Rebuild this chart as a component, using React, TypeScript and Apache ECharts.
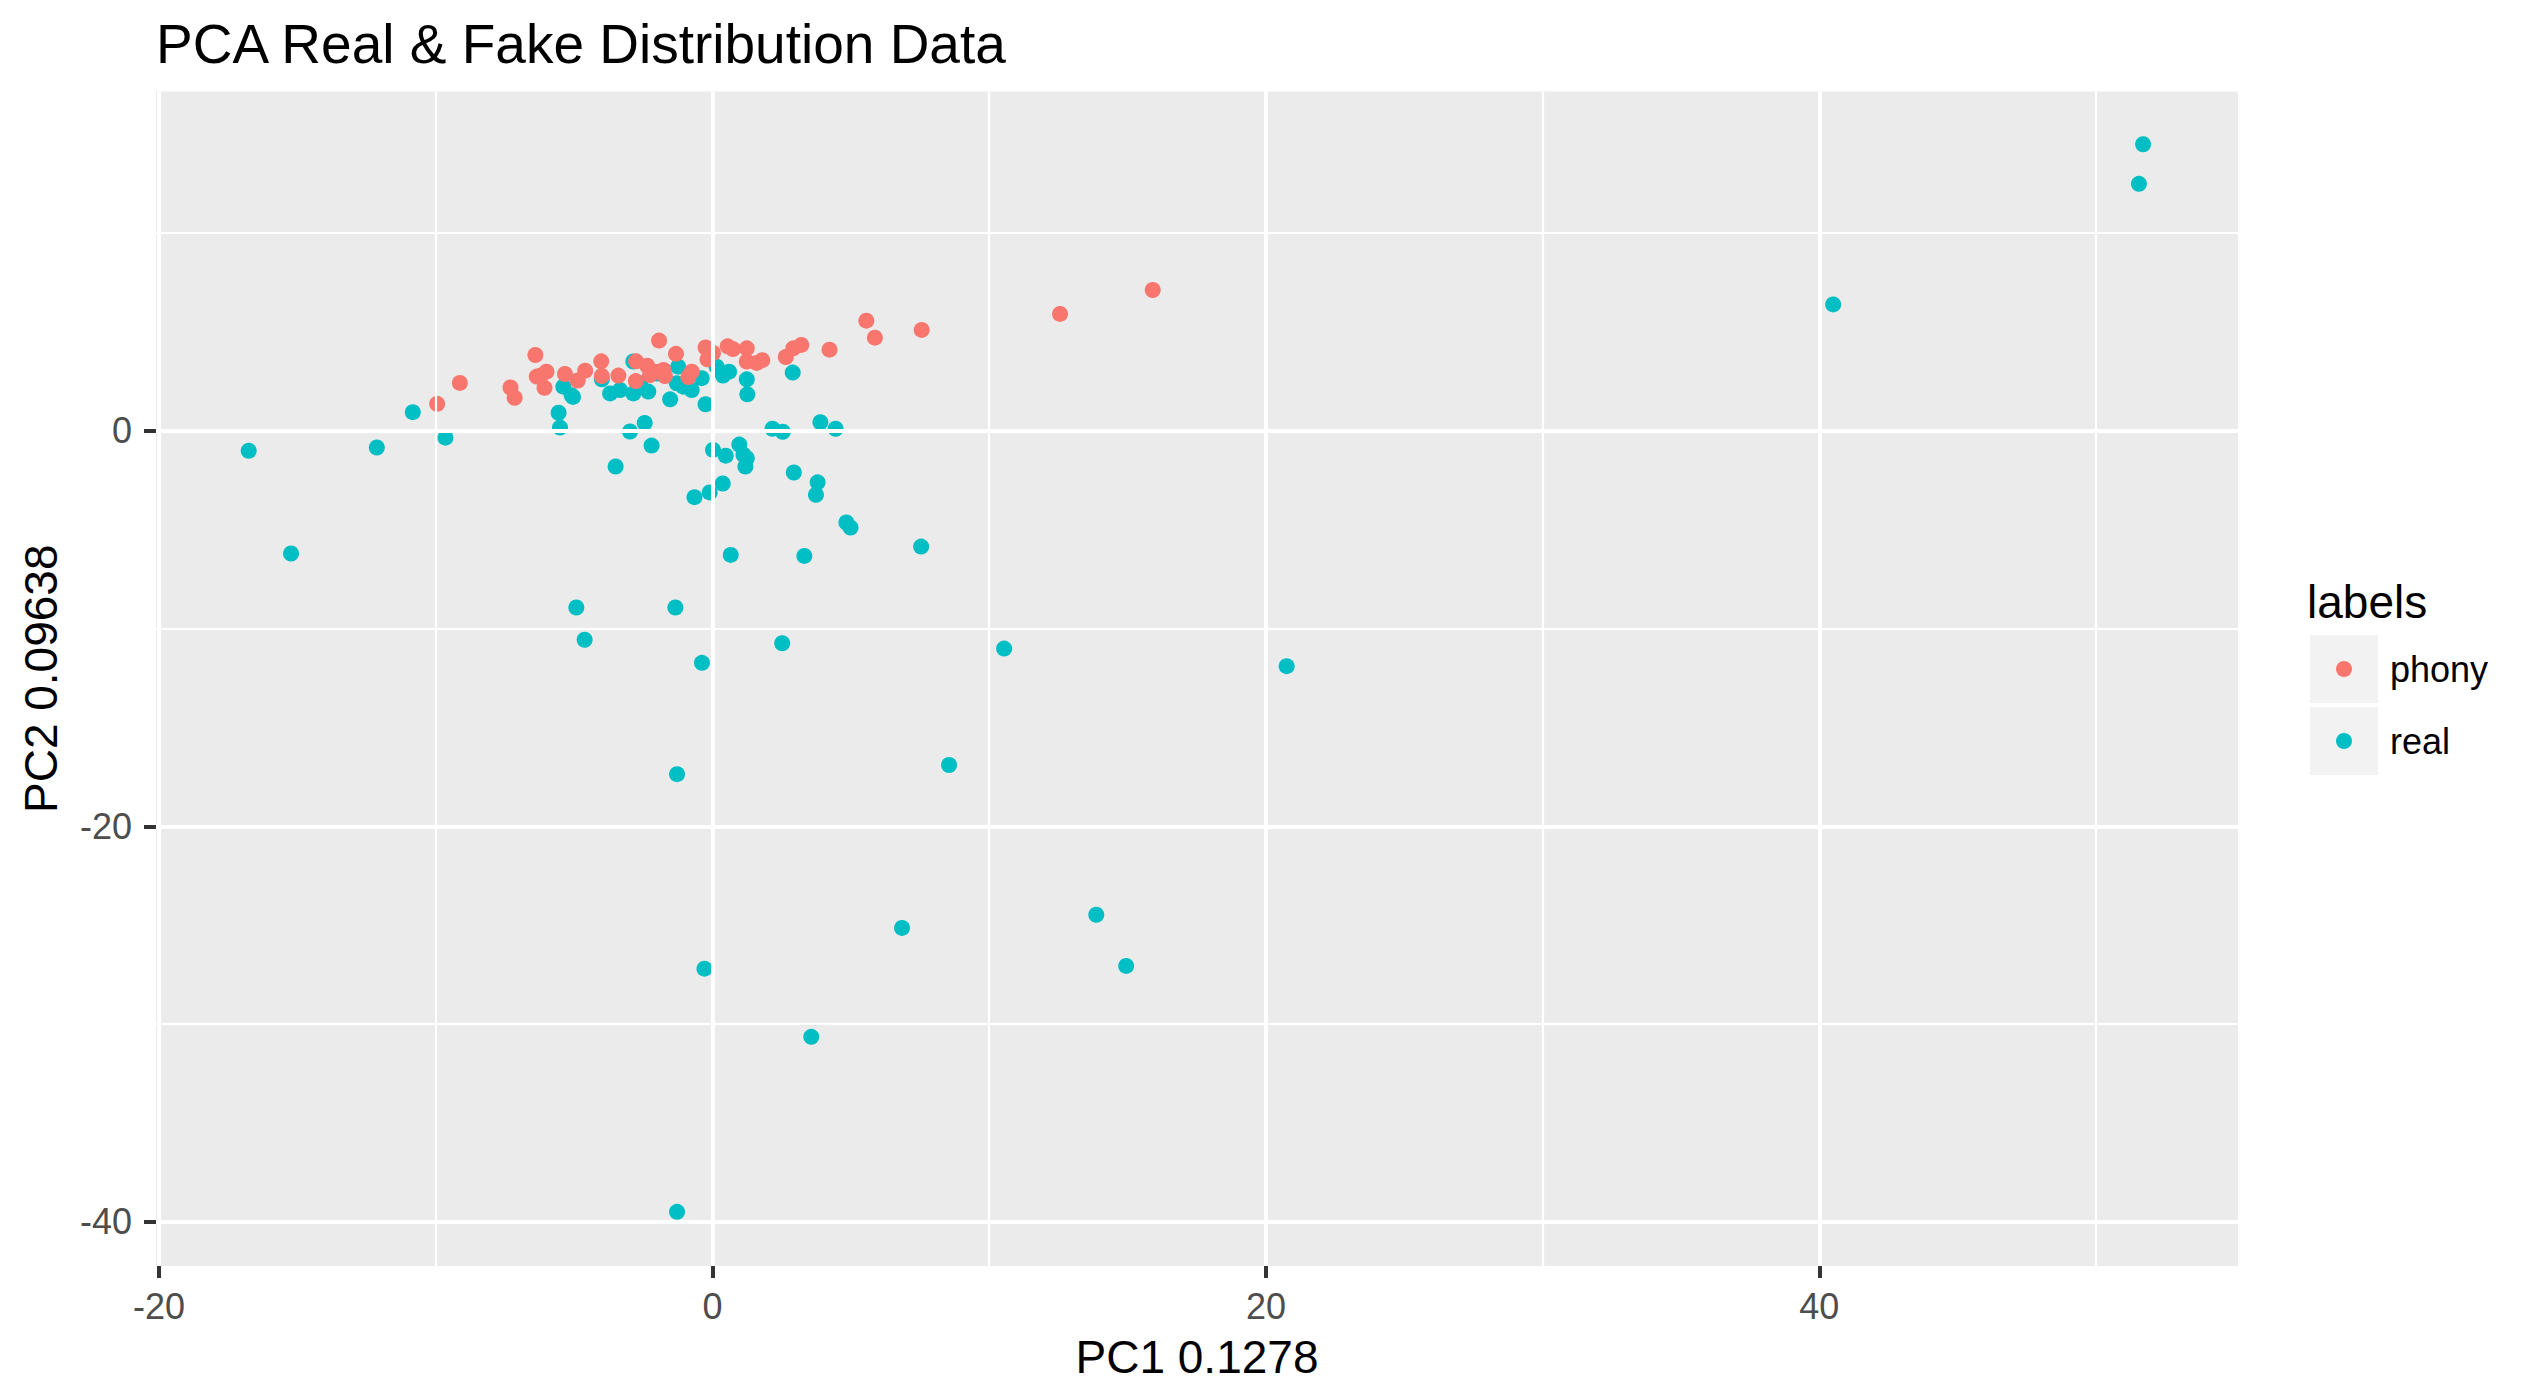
import React, { useEffect, useRef } from "react";
import * as echarts from "echarts";

const TITLE = "PCA Real & Fake Distribution Data";
const X_NAME = "PC1 0.1278";
const Y_NAME = "PC2 0.09638";
const LEGEND_TITLE = "labels";
const GROUPS = ["phony", "real"];
const COLORS = ["#F8766D", "#00BFC4"];

const X_MAJOR = [-20, 0, 20, 40];
const X_MINOR = [-10, 10, 30, 50];
const Y_MAJOR = [-40, -20, 0];
const Y_MINOR = [-30, -10, 10];
const X_RANGE = [-20.11, 55.13];
const Y_RANGE = [-42.24, 17.17];

const phonyPoints: number[][] = [
  [-9.95, 1.37], [-9.13, 2.43], [-7.3, 2.2], [-7.15, 1.68], [-6.4, 3.84],
  [-6.35, 2.75], [-6.0, 3.0], [-6.07, 2.18], [-6.2, 2.8], [-5.33, 2.88],
  [-4.87, 2.55], [-4.6, 3.05], [-4.02, 3.52], [-4.0, 2.78], [-3.4, 2.8],
  [-2.76, 3.52], [-2.77, 2.52], [-2.36, 3.3], [-2.08, 3.0], [-1.77, 3.08],
  [-1.72, 2.78], [-2.26, 2.83], [-1.93, 4.57], [-1.32, 3.9], [-0.87, 2.73],
  [-0.75, 3.0], [-0.25, 4.22], [-0.18, 3.62], [0.02, 3.94], [0.55, 4.28],
  [0.74, 4.14], [1.24, 4.18], [1.24, 3.51], [1.6, 3.44], [1.8, 3.58],
  [2.65, 3.74], [2.92, 4.18], [3.21, 4.35], [4.23, 4.11], [5.56, 5.58],
  [5.87, 4.72], [7.56, 5.11], [12.56, 5.92], [15.91, 7.13]
];

const realPoints: number[][] = [
  [-16.76, -1.0], [-15.23, -6.2], [-12.13, -0.84], [-10.83, 0.95], [-9.65, -0.34],
  [-5.56, 0.92], [-5.51, 0.17], [-5.09, 1.8], [-5.04, 1.72], [-5.39, 2.24],
  [-4.0, 2.61], [-3.7, 1.9], [-3.34, 2.07], [-2.86, 1.9], [-2.32, 1.99],
  [-2.86, 3.51], [-2.62, 2.41], [-2.0, 2.9], [-1.53, 1.6], [-1.29, 2.41],
  [-1.24, 3.25], [-1.05, 2.24], [-0.75, 2.07], [-0.39, 2.67], [-0.25, 1.35],
  [0.15, 3.25], [0.6, 3.0], [0.38, 2.8], [1.24, 2.61], [1.26, 1.85],
  [2.9, 2.95], [-2.98, -0.03], [-2.45, 0.4], [-2.2, -0.74], [-3.5, -1.8],
  [0.02, -0.96], [0.48, -1.25], [0.97, -0.69], [1.12, -1.2], [1.24, -1.38],
  [1.19, -1.8], [2.17, 0.11], [2.54, -0.04], [3.9, 0.44], [4.45, 0.11],
  [2.94, -2.1], [3.8, -2.6], [3.74, -3.23], [0.37, -2.66], [-0.1, -3.11],
  [-0.65, -3.35], [4.84, -4.63], [4.99, -4.89], [0.66, -6.27], [3.32, -6.32],
  [7.54, -5.85], [-4.92, -8.93], [-1.34, -8.93], [-4.62, -10.56], [2.52, -10.74],
  [10.54, -11.01], [-0.38, -11.73], [20.75, -11.9], [-1.28, -17.36], [8.55, -16.9],
  [6.85, -25.14], [13.87, -24.47], [14.95, -27.06], [-0.29, -27.2], [3.57, -30.65],
  [-1.28, -39.5], [40.5, 6.4], [51.7, 14.5], [51.55, 12.5]
];

const FONT = '"Liberation Sans", Arial, Helvetica, sans-serif';

export default function App() {
  const ref = useRef<HTMLDivElement>(null);

  useEffect(() => {
    if (!ref.current) return;
    const chart = echarts.init(ref.current, null, { renderer: "svg" });

    const gridLines = [
      ...X_MAJOR.map((v) => ({ xAxis: v, lineStyle: { width: 4 } })),
      ...X_MINOR.map((v) => ({ xAxis: v, lineStyle: { width: 2.2 } })),
      ...Y_MAJOR.map((v) => ({ yAxis: v, lineStyle: { width: 4 } })),
      ...Y_MINOR.map((v) => ({ yAxis: v, lineStyle: { width: 2.2 } })),
    ];

    const gridL = 156;
    const gridT = 91.5;
    const gridW = 2082;
    const gridH = 1174.5;

    const legendX = 2310;
    const boxTop = 635;
    const boxSize = 68;
    const boxStep = 72;

    const legendGraphics: any[] = [
      {
        type: "text",
        left: 2307,
        top: 579,
        style: { text: LEGEND_TITLE, font: `46px ${FONT}`, fill: "#000000" },
      },
    ];
    GROUPS.forEach((g, i) => {
      const top = boxTop + i * boxStep;
      legendGraphics.push({
        type: "rect",
        shape: { x: legendX, y: top, width: boxSize, height: boxSize },
        style: { fill: "#F2F2F2" },
      });
      legendGraphics.push({
        type: "circle",
        shape: { cx: legendX + boxSize / 2, cy: top + boxSize / 2, r: 8 },
        style: { fill: COLORS[i] },
      });
      legendGraphics.push({
        type: "text",
        x: 2390,
        y: top + boxSize / 2,
        style: {
          text: g,
          font: `36px ${FONT}`,
          fill: "#000000",
          verticalAlign: "middle",
          align: "left",
        },
      });
    });

    chart.setOption({
      animation: false,
      backgroundColor: "#FFFFFF",
      title: {
        text: TITLE,
        left: 156,
        top: 16,
        padding: 0,
        textStyle: { fontSize: 55, fontWeight: "normal", color: "#000000", fontFamily: FONT },
      },
      grid: {
        left: gridL,
        top: gridT,
        width: gridW,
        height: gridH,
        show: true,
        backgroundColor: "#EBEBEB",
        borderWidth: 0,
        containLabel: false,
      },
      xAxis: {
        type: "value",
        min: X_RANGE[0],
        max: X_RANGE[1],
        name: X_NAME,
        nameLocation: "middle",
        nameGap: 68,
        nameTextStyle: { fontSize: 46, color: "#000000", fontFamily: FONT },
        axisLine: { show: false, onZero: false },
        axisTick: {
          show: true,
          customValues: X_MAJOR,
          length: 12,
          lineStyle: { color: "#333333", width: 4 },
        },
        axisLabel: {
          customValues: X_MAJOR,
          fontSize: 36,
          color: "#4D4D4D",
          fontFamily: FONT,
          margin: 22,
        },
        splitLine: { show: false },
      },
      yAxis: {
        type: "value",
        min: Y_RANGE[0],
        max: Y_RANGE[1],
        name: Y_NAME,
        nameLocation: "middle",
        nameGap: 92,
        nameRotate: 90,
        nameTextStyle: { fontSize: 46, color: "#000000", fontFamily: FONT },
        axisLine: { show: false, onZero: false },
        axisTick: {
          show: true,
          customValues: Y_MAJOR,
          length: 12,
          lineStyle: { color: "#333333", width: 4 },
        },
        axisLabel: {
          customValues: Y_MAJOR,
          fontSize: 36,
          color: "#4D4D4D",
          fontFamily: FONT,
          margin: 24,
        },
        splitLine: { show: false },
      },
      graphic: legendGraphics,
      series: [
        {
          name: "grid",
          type: "scatter",
          data: [],
          z: 1,
          silent: true,
          markLine: {
            silent: true,
            symbol: ["none", "none"],
            label: { show: false },
            lineStyle: { color: "#FFFFFF", type: "solid", width: 4 },
            emphasis: { disabled: true },
            data: gridLines,
          },
        },
        {
          name: GROUPS[1],
          type: "scatter",
          data: realPoints,
          symbol: "circle",
          symbolSize: 16,
          z: 3,
          itemStyle: { color: COLORS[1], opacity: 1 },
        },
        {
          name: GROUPS[0],
          type: "scatter",
          data: phonyPoints,
          symbol: "circle",
          symbolSize: 16,
          z: 4,
          itemStyle: { color: COLORS[0], opacity: 1 },
        },
      ],
    });

    return () => chart.dispose();
  }, []);

  return (
    <div
      ref={ref}
      style={{ position: "absolute", left: 0, top: 0, width: 2537, height: 1396 }}
    />
  );
}
